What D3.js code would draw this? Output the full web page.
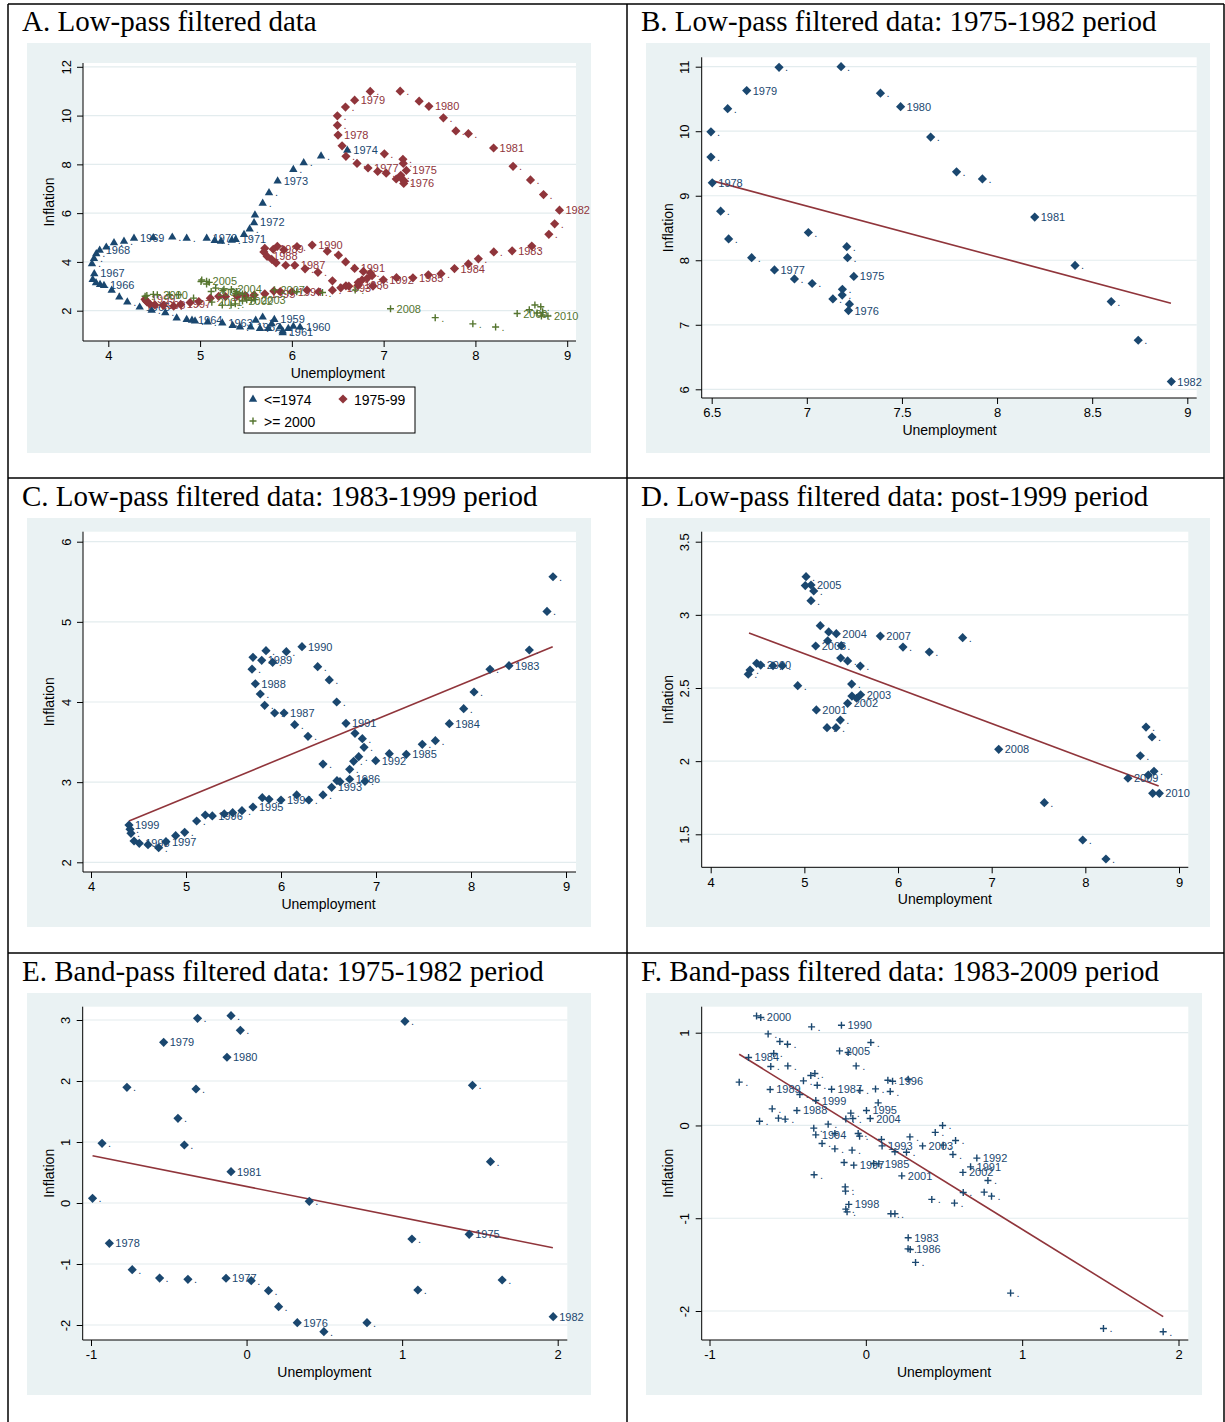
<!DOCTYPE html>
<html><head><meta charset="utf-8">
<script src="https://cdn.jsdelivr.net/npm/d3@7"></script>
<style>
html,body{margin:0;padding:0;background:#fff;}
svg text{font-family:"Liberation Sans",Arial,sans-serif;}
</style></head>
<body><svg id="chart" width="1225" height="1422"></svg>
<script>
// ---------------- DATA ----------------
// [unemployment, inflation, year label ('' -> '.')]
const lpPre1975 = [
[5.809,1.65,"1959"],[5.682,1.75,""],[5.78,1.48,""],[5.871,1.34,""],
[6.089,1.34,"1960"],[6.016,1.37,""],[5.961,1.28,""],[5.9,1.18,""],
[5.9,1.11,"1961"],[5.743,1.28,""],[5.653,1.28,""],[5.606,1.62,""],
[5.551,1.34,"1962"],[5.435,1.34,""],[5.355,1.41,""],
[5.242,1.51,"1963"],[5.083,1.55,""],[4.945,1.59,""],
[4.912,1.62,"1964"],[4.854,1.65,""],[4.745,1.71,""],[4.621,1.93,""],[4.473,2.03,""],
[4.342,2.16,"1965"],[4.207,2.37,""],[4.12,2.57,""],[4.037,2.85,""],
[3.953,3.05,"1966"],[3.91,3.09,""],[3.866,3.16,""],[3.83,3.29,""],
[3.847,3.53,"1967"],[3.822,3.94,""],[3.844,4.15,""],[3.869,4.35,""],
[3.906,4.49,"1968"],[3.978,4.62,""],[4.062,4.8,""],[4.171,4.86,""],
[4.28,4.98,"1969"],[4.49,5.01,""],[4.697,5.03,""],[4.854,4.98,""],
[5.072,4.98,"1970"],[5.159,4.89,""],[5.228,4.86,""],[5.345,4.9,""],
[5.388,4.93,"1971"],[5.479,5.14,""],[5.54,5.36,""],
[5.588,5.62,"1972"],[5.598,5.94,""],[5.682,6.42,""],[5.751,6.85,""],
[5.845,7.33,"1973"],[6.016,7.8,""],[6.129,8.08,""],[6.318,8.355,""],
[6.604,8.59,"1974"]
];
const lp7582 = [
[7.008,8.43,""],[7.21,8.21,""],[7.214,8.04,""],
[7.247,7.75,"1975"],[7.187,7.55,""],[7.186,7.46,""],[7.224,7.32,""],
[7.219,7.22,"1976"],[7.137,7.40,""],[7.028,7.64,""],[6.935,7.71,""],
[6.83,7.85,"1977"],[6.71,8.04,""],[6.589,8.33,""],[6.547,8.76,""],
[6.503,9.20,"1978"],[6.496,9.60,""],[6.496,9.99,""],[6.584,10.35,""],
[6.684,10.63,"1979"],[6.854,10.99,""],[7.18,11.0,""],[7.387,10.59,""],
[7.493,10.38,"1980"],[7.651,9.91,""],[7.787,9.37,""],[7.923,9.26,""],
[8.198,8.67,"1981"],[8.41,7.92,""],[8.60,7.36,""],[8.742,6.76,""],
[8.916,6.12,"1982"]
];
const lp8399 = [
[8.863,5.563,""],[8.8,5.13,""],[8.614,4.649,""],
[8.4,4.453,"1983"],[8.2,4.408,""],[8.032,4.125,""],[7.923,3.917,""],
[7.772,3.729,"1984"],[7.625,3.517,""],[7.487,3.472,""],
[7.319,3.347,"1985"],[7.14,3.355,""],
[6.997,3.268,"1992"],[6.874,3.435,""],[6.856,3.542,""],[6.779,3.609,""],
[6.684,3.734,"1991"],[6.586,4.0,""],[6.508,4.275,""],[6.386,4.441,""],
[6.221,4.69,"1990"],[6.056,4.628,""],[5.912,4.495,""],[5.842,4.64,""],
[5.797,4.52,"1989"],[5.705,4.558,""],[5.695,4.41,""],
[5.73,4.228,"1988"],[5.782,4.1,""],[5.828,3.959,""],[5.933,3.863,""],
[6.032,3.863,"1987"],[6.144,3.717,""],[6.284,3.572,""],[6.442,3.226,""],
[6.723,3.036,"1986"],[6.589,3.018,""],[6.621,3.006,""],[6.723,3.16,""],[6.765,3.26,""],[6.818,3.318,""],[6.884,3.01,""],
[6.533,2.936,"1993"],[6.442,2.84,""],[6.292,2.777,""],[6.165,2.84,""],
[6.0,2.777,"1994"],[5.874,2.786,""],[5.803,2.806,""],
[5.705,2.69,"1995"],[5.589,2.644,""],[5.491,2.619,""],[5.403,2.603,""],
[5.277,2.578,"1996"],[5.203,2.59,""],[5.112,2.515,""],[4.986,2.374,""],[4.891,2.332,""],
[4.789,2.257,"1997"],[4.712,2.182,""],[4.6,2.22,""],
[4.508,2.237,"1998"],[4.453,2.266,""],[4.421,2.362,""],[4.411,2.412,""],
[4.4,2.465,"1999"]
];
const lp0010 = [
[4.401,2.594,""],[4.42,2.623,""],[4.491,2.669,""],
[4.534,2.657,"2000"],[4.665,2.652,""],[4.765,2.652,""],[4.929,2.516,""],
[5.128,2.35,"2001"],[5.242,2.229,""],[5.338,2.229,""],[5.384,2.281,""],
[5.462,2.395,"2002"],[5.505,2.527,""],[5.508,2.445,""],[5.558,2.43,""],
[5.601,2.454,"2003"],[5.597,2.65,""],[5.462,2.685,""],[5.388,2.705,""],
[5.341,2.871,"2004"],[5.26,2.883,""],[5.249,2.823,""],[5.17,2.926,""],
[5.071,3.204,"2005"],[5.018,3.261,""],[5.01,3.2,""],[5.1,3.163,""],[5.071,3.097,""],
[5.121,2.787,"2006"],[5.394,2.789,""],
[5.811,2.855,"2007"],[6.053,2.78,""],[6.334,2.746,""],[6.69,2.844,""],
[7.075,2.081,"2008"],[7.562,1.716,""],[7.972,1.461,""],[8.22,1.331,""],
[8.455,1.883,"2009"],[8.587,2.037,""],[8.648,2.233,""],[8.712,2.165,""],[8.672,1.905,""],[8.733,1.931,""],
[8.719,1.78,""],[8.79,1.78,"2010"]
];
const bp7582 = [
[-0.315,3.028,""],[-0.1,3.071,""],[-0.04,2.831,""],[-0.533,2.634,"1979"],[-0.126,2.389,"1980"],
[1.018,2.979,""],[-0.769,1.897,""],[-0.325,1.869,""],[1.452,1.929,""],[-0.441,1.388,""],
[-0.929,0.979,""],[-0.4,0.951,""],[1.568,0.677,""],[-0.1,0.513,"1981"],[-0.99,0.077,""],
[0.403,0.028,""],[1.063,-0.59,""],[1.431,-0.513,"1975"],[-0.882,-0.661,"1978"],[-0.735,-1.093,""],
[-0.559,-1.23,""],[-0.377,-1.251,""],[-0.132,-1.234,"1977"],[0.03,-1.273,""],[0.141,-1.437,""],
[0.206,-1.7,""],[0.326,-1.962,"1976"],[0.497,-2.11,""],[0.774,-1.962,""],[1.101,-1.426,""],
[1.643,-1.262,""],[1.971,-1.864,"1982"]
];
const bp8309 = [
[-0.699,1.181,""],[-0.672,1.164,"2000"],[-0.347,1.063,""],[-0.156,1.081,"1990"],
[-0.625,0.987,""],[-0.55,0.905,""],[-0.501,0.876,""],[0.032,0.894,""],
[-0.168,0.804,"2005"],[-0.113,0.787,""],[-0.589,0.776,""],[-0.75,0.733,"1984"],
[-0.608,0.636,""],[-0.499,0.642,""],[-0.062,0.642,""],[-0.81,0.467,""],
[-0.399,0.481,""],[-0.352,0.539,""],[-0.326,0.56,""],[-0.311,0.434,""],
[0.141,0.488,""],[0.171,0.477,"1996"],[0.271,0.499,""],
[-0.612,0.388,"1989"],[-0.422,0.334,""],[-0.219,0.391,"1987"],[-0.038,0.377,""],
[0.062,0.394,""],[0.156,0.366,""],[-0.32,0.269,"1999"],[0.079,0.244,""],
[-0.441,0.162,"1988"],[-0.599,0.179,""],[-0.68,0.046,""],[-0.559,0.079,""],
[-0.516,0.068,""],[-0.241,0.014,""],[-0.096,0.133,""],[-0.128,0.071,""],
[-0.083,0.075,""],[0.004,0.162,"1995"],[0.028,0.075,"2004"],[-0.333,-0.029,""],
[-0.32,-0.101,"1994"],[-0.198,-0.086,""],[-0.049,-0.086,""],[-0.04,-0.115,""],
[-0.28,-0.194,""],[-0.198,-0.252,""],[-0.088,-0.266,""],[0.1,-0.151,""],
[0.104,-0.22,"1993"],[0.186,-0.284,""],[0.26,-0.288,""],[0.282,-0.123,""],
[0.363,-0.22,"2003"],[0.495,-0.212,""],[0.444,-0.075,""],[0.491,0.0,""],
[0.574,-0.162,""],[0.557,-0.313,""],[0.71,-0.352,"1992"],[0.67,-0.446,"1991"],
[0.621,-0.506,"2002"],[0.781,-0.593,""],[0.757,-0.719,""],[0.804,-0.762,""],
[0.623,-0.722,""],[0.567,-0.837,""],[0.422,-0.797,""],[0.23,-0.543,"2001"],
[0.083,-0.414,"1985"],[0.05,-0.41,""],[-0.077,-0.428,"1997"],[-0.139,-0.399,""],
[-0.331,-0.532,""],[-0.132,-0.662,""],[-0.13,-0.708,""],[-0.109,-0.851,"1998"],
[-0.128,-0.902,""],[-0.12,-0.931,""],[0.16,-0.952,""],[0.186,-0.952,""],
[0.271,-1.211,"1983"],[0.284,-1.337,"1986"],[0.27,-1.33,""],[0.318,-1.476,""],
[0.926,-1.807,""],[1.52,-2.188,""],[1.902,-2.224,""]
];
// fitted regression lines: [unemployment, inflation] end points
const fitB = [[6.5,9.234],[8.914,7.333]];
const fitC = [[4.4,2.515],[8.86,4.69]];
const fitD = [[4.409,2.876],[8.783,1.83]];
const fitE = [[-0.99,0.775],[1.969,-0.733]];
const fitF = [[-0.81,0.768],[1.902,-2.06]];
// tick values
const ticksAx = [4,5,6,7,8,9], ticksAy = [2,4,6,8,10,12];
const ticksBx = [6.5,7,7.5,8,8.5,9], ticksBy = [6,7,8,9,10,11];
const ticksCx = [4,5,6,7,8,9], ticksCy = [2,3,4,5,6];
const ticksDx = [4,5,6,7,8,9], ticksDy = [1.5,2,2.5,3,3.5];
const ticksEx = [-1,0,1,2], ticksEy = [-2,-1,0,1,2,3];
const ticksFx = [-1,0,1,2], ticksFy = [-2,-1,0,1];
const legendA = ["<=1974","1975-99",">= 2000"];

// ---------------- STYLE / LAYOUT ----------------
const NAVY="#1a476f", MAROON="#90353b", GREEN="#55752f", BG="#eaf2f3";
const svg = d3.select("#chart");
const fmt = v => String(v).replace("\u2212","-");

function markerPath(type){
  if(type==="diamond") return "M0,-4.6L4.6,0L0,4.6L-4.6,0Z";
  if(type==="triangle") return "M0,-4.4L4.2,2.8L-4.2,2.8Z";
  return "M-3.5,0H3.5M0,-3.5V3.5";
}

function panel(cfg){
  const g = svg.append("g");
  g.append("text").attr("x",cfg.tx).attr("y",cfg.ty)
    .style("font-family","'Liberation Serif','Times New Roman',serif")
    .style("font-size","29px").attr("fill","#000").text(cfg.title);
  g.append("rect").attr("x",cfg.bg[0]).attr("y",cfg.bg[1])
    .attr("width",cfg.bg[2]-cfg.bg[0]).attr("height",cfg.bg[3]-cfg.bg[1]).attr("fill",BG);
  const [pl,pt,pr,pb] = cfg.plot;
  g.append("rect").attr("x",pl).attr("y",pt).attr("width",pr-pl).attr("height",pb-pt).attr("fill","#fff");
  const x = d3.scaleLinear().domain(cfg.xd).range(cfg.xr);
  const y = d3.scaleLinear().domain(cfg.yd).range(cfg.yr);
  // grid
  g.selectAll(".grid").data(cfg.yt).enter().append("line")
    .attr("x1",pl).attr("x2",pr).attr("y1",d=>y(d)).attr("y2",d=>y(d))
    .attr("stroke","#e3ecee").attr("stroke-width",1.2);
  // axes
  const xAxis = d3.axisBottom(x).tickValues(cfg.xt).tickSize(6).tickPadding(4).tickFormat(fmt);
  const gx = g.append("g").attr("transform",`translate(0,${pb})`).call(xAxis);
  gx.select(".domain").attr("d",`M${pl},0H${pr}`).attr("stroke","#000");
  gx.selectAll("text").style("font-size","13px").attr("fill","#000");
  const yAxis = d3.axisLeft(y).tickValues(cfg.yt).tickSize(6).tickFormat(fmt);
  const gy = g.append("g").attr("transform",`translate(${pl},0)`).call(yAxis);
  gy.select(".domain").attr("d",`M0,${pt}V${pb}`).attr("stroke","#000");
  gy.selectAll(".tick text").attr("x",null).attr("dy",null)
    .attr("transform","translate(-17,0) rotate(-90)")
    .attr("text-anchor","middle").attr("dominant-baseline","central")
    .style("font-size","13px").attr("fill","#000");
  g.append("text").attr("x",(cfg.xr[0]+cfg.xr[1])/2).attr("y",pb+37)
    .attr("text-anchor","middle").style("font-size","14px").text("Unemployment");
  g.append("text").attr("transform",`translate(${pl-29},${(pt+pb)/2}) rotate(-90)`)
    .attr("text-anchor","middle").style("font-size","14px").text("Inflation");
  // fit line
  if(cfg.fit){
    g.append("path").datum(cfg.fit)
      .attr("d",d3.line().x(d=>x(d[0])).y(d=>y(d[1])))
      .attr("stroke",MAROON).attr("stroke-width",1.6).attr("fill","none");
  }
  // series
  cfg.series.forEach(s=>{
    const sg = g.append("g");
    sg.selectAll("path").data(s.data).enter().append("path")
      .attr("transform",d=>`translate(${x(d[0])},${y(d[1])})`)
      .attr("d",markerPath(s.type))
      .attr("fill",s.type==="plus"?"none":s.color)
      .attr("stroke",s.type==="plus"?s.color:"none").attr("stroke-width",1.4);
    sg.selectAll("text").data(s.data).enter().append("text")
      .attr("x",d=>x(d[0])+6).attr("y",d=>y(d[1]))
      .attr("dominant-baseline","central")
      .style("font-size","11px").attr("fill",s.color)
      .text(d=>d[2]===""?".":d[2]);
  });
  return {g,x,y};
}

// table frame
const frame = svg.append("g").attr("stroke","#000").attr("stroke-width",1.5);
[[8,4,8,1422],[627,4,627,1422],[1224,4,1224,1422],[8,4,1224,4],[8,478,1224,478],[8,953,1224,953]]
 .forEach(l=>frame.append("line").attr("x1",l[0]).attr("y1",l[1]).attr("x2",l[2]).attr("y2",l[3]));

const pA = panel({title:"A. Low-pass filtered data",tx:22,ty:31,bg:[27,43,591,453],plot:[83,63,576,341],
  xd:[4,9],xr:[108.3,567.2],yd:[2,12],yr:[310.7,66.8],xt:ticksAx,yt:ticksAy,
  series:[{data:lpPre1975,type:"triangle",color:NAVY},
          {data:lp7582.concat(lp8399),type:"diamond",color:MAROON},
          {data:lp0010,type:"plus",color:GREEN}]});
// legend A
(function(){
  const g = svg.append("g");
  g.append("rect").attr("x",244).attr("y",387).attr("width",171).attr("height",46)
    .attr("fill","#fff").attr("stroke","#000").attr("stroke-width",1);
  const items=[{t:legendA[0],type:"triangle",c:NAVY,x:253,y:399},
               {t:legendA[1],type:"diamond",c:MAROON,x:343,y:399},
               {t:legendA[2],type:"plus",c:GREEN,x:253,y:421}];
  items.forEach(it=>{
    g.append("path").attr("transform",`translate(${it.x},${it.y})`).attr("d",markerPath(it.type))
     .attr("fill",it.type==="plus"?"none":it.c).attr("stroke",it.type==="plus"?it.c:"none").attr("stroke-width",1.4);
    g.append("text").attr("x",it.x+11).attr("y",it.y+1).attr("dominant-baseline","central")
     .style("font-size","14px").text(it.t);
  });
})();

panel({title:"B. Low-pass filtered data: 1975-1982 period",tx:641,ty:31,bg:[646,43,1210,453],plot:[701.7,57.3,1196.7,398],
  xd:[6.5,9],xr:[711.7,1187.3],yd:[6,11],yr:[389.3,66.7],xt:ticksBx,yt:ticksBy,fit:fitB,
  series:[{data:lp7582,type:"diamond",color:NAVY}]});
panel({title:"C. Low-pass filtered data: 1983-1999 period",tx:22,ty:506,bg:[27,518,591,927],plot:[83,531.7,576,872],
  xd:[4,9],xr:[91,566],yd:[2,6],yr:[862.3,541.7],xt:ticksCx,yt:ticksCy,fit:fitC,
  series:[{data:lp8399,type:"diamond",color:NAVY}]});
panel({title:"D. Low-pass filtered data: post-1999 period",tx:641,ty:506,bg:[646,518,1210,927],plot:[701.7,531.7,1188.3,867.3],
  xd:[4,9],xr:[710.7,1179],yd:[1.5,3.5],yr:[834.3,541.7],xt:ticksDx,yt:ticksDy,fit:fitD,
  series:[{data:lp0010,type:"diamond",color:NAVY}]});
panel({title:"E. Band-pass filtered data: 1975-1982 period",tx:22,ty:981,bg:[27,993,591,1395],plot:[82.7,1006.7,567.3,1340],
  xd:[-1,2],xr:[91,557.7],yd:[-2,3],yr:[1325,1020],xt:ticksEx,yt:ticksEy,fit:fitE,
  series:[{data:bp7582,type:"diamond",color:NAVY}]});
panel({title:"F. Band-pass filtered data: 1983-2009 period",tx:641,ty:981,bg:[646,993,1202,1395],plot:[701.7,1006.7,1188.3,1340],
  xd:[-1,2],xr:[709.5,1178.5],yd:[-2,1],yr:[1311,1032.7],xt:ticksFx,yt:ticksFy,fit:fitF,
  series:[{data:bp8309,type:"plus",color:NAVY}]});
</script></body></html>
